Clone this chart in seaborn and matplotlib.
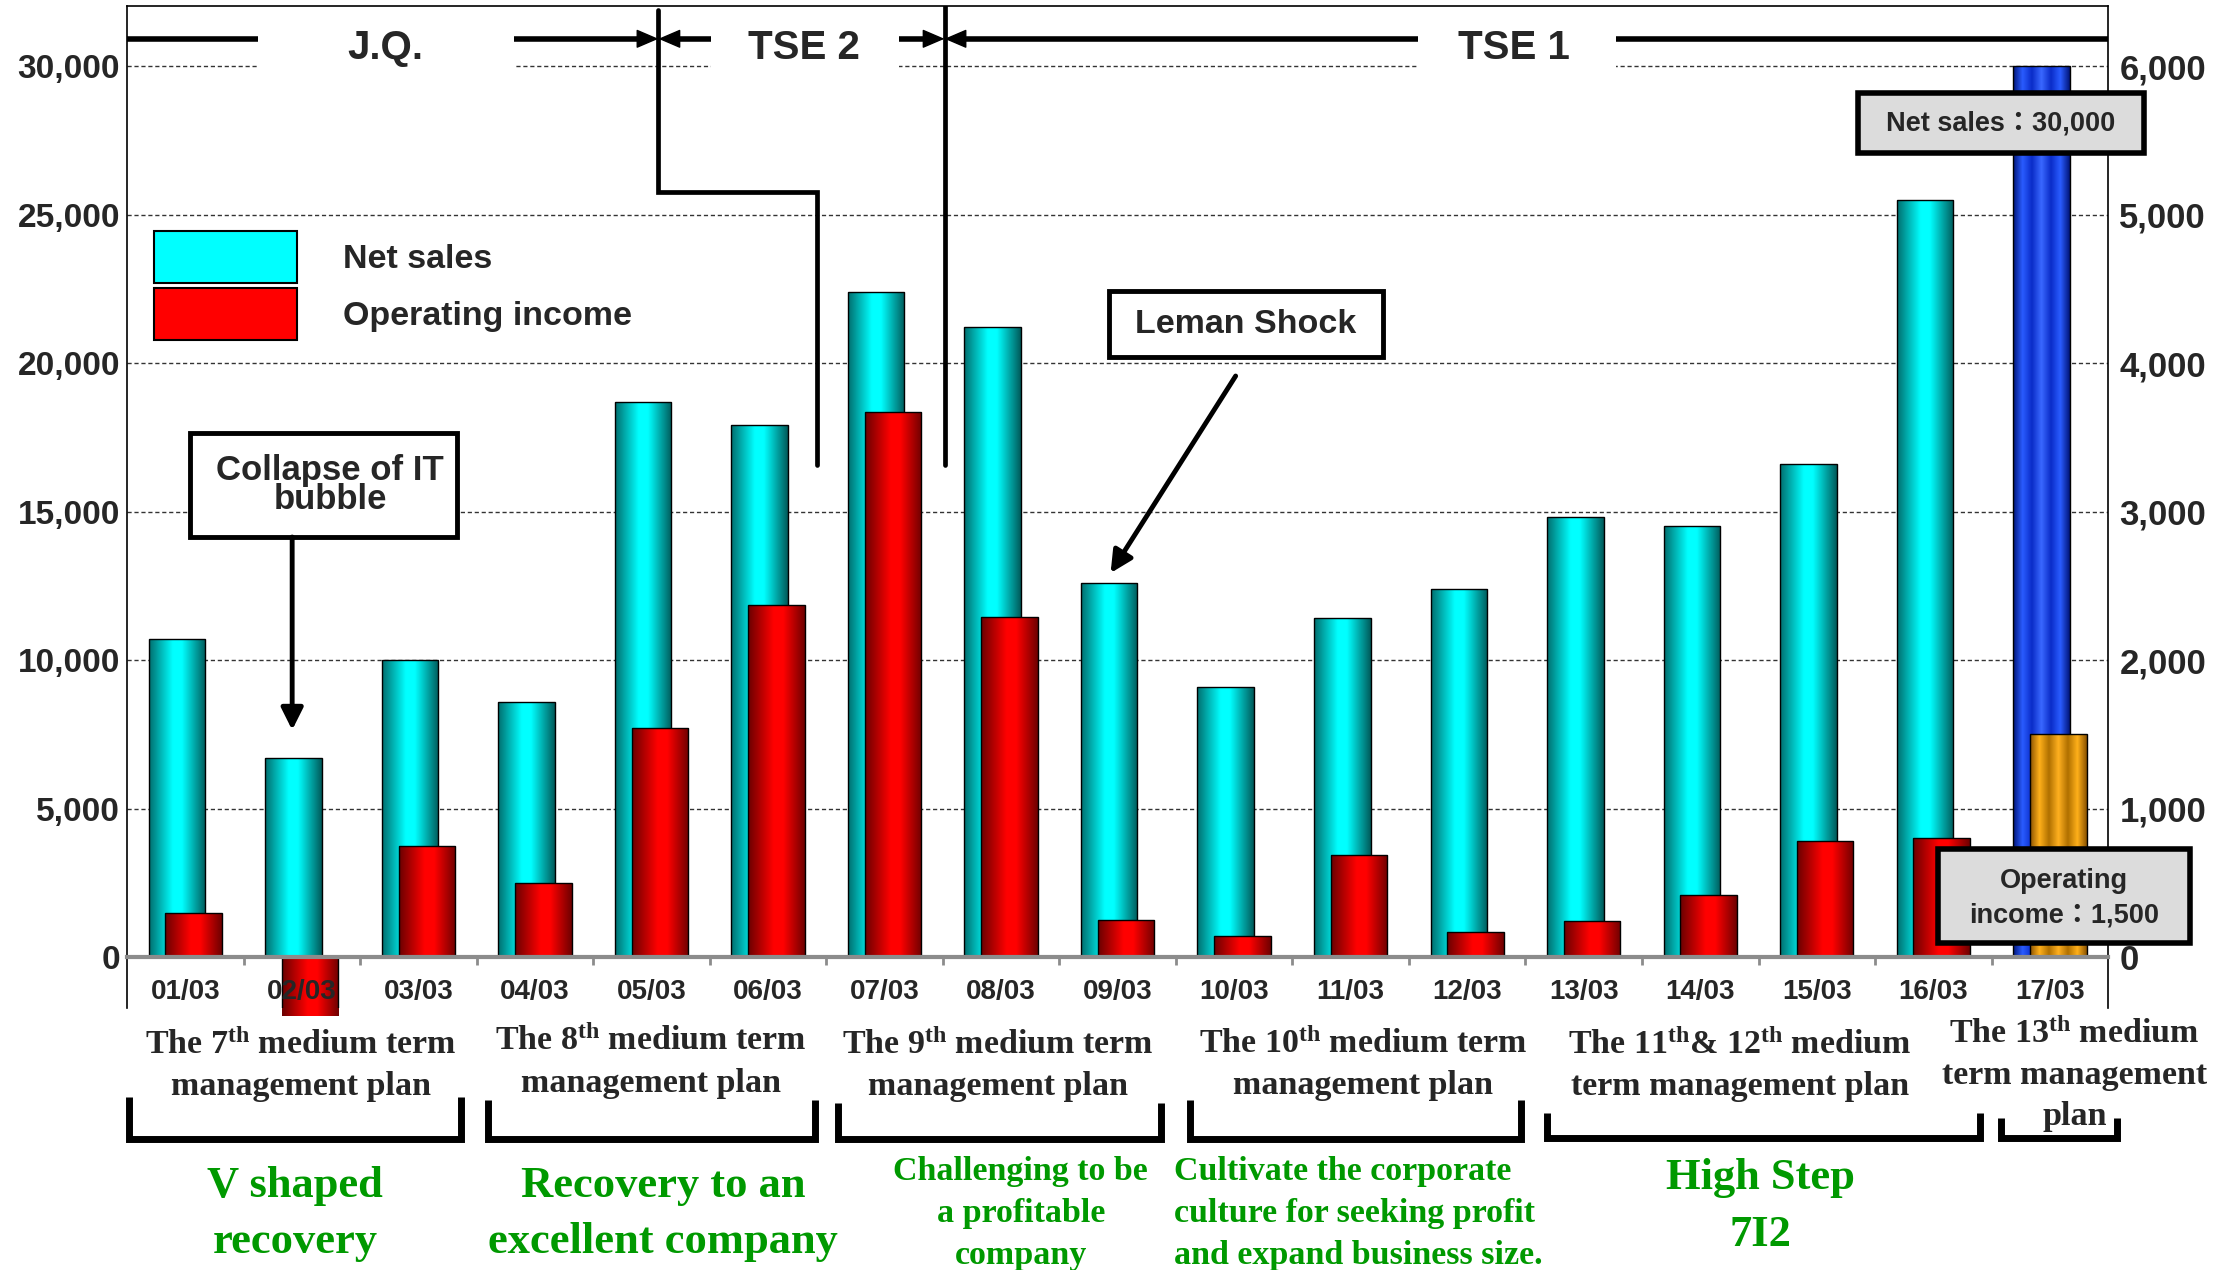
import numpy as np
import pandas as pd
import seaborn as sns
import matplotlib.pyplot as plt
from matplotlib.colors import LinearSegmentedColormap
from matplotlib.patches import Patch, Rectangle

# values
years = ['01/03', '02/03', '03/03', '04/03', '05/03', '06/03', '07/03', '08/03', '09/03',
         '10/03', '11/03', '12/03', '13/03', '14/03', '15/03', '16/03', '17/03']
net_sales = [10700, 6700, 10000, 8600, 18700, 17900, 22400, 21200, 12600,
             9100, 11400, 12400, 14800, 14500, 16600, 25500, 30000]
op_income = [300, -400, 750, 500, 1540, 2370, 3670, 2290, 250,
             145, 690, 170, 240, 420, 780, 800, 1500]
sales_ticks = [0, 5000, 10000, 15000, 20000, 25000, 30000]
income_ticks = [0, 1000, 2000, 3000, 4000, 5000, 6000]
legend_labels = ['Net sales', 'Operating income']
plan_labels = [
    r'The $\mathbf{7^{th}}$ medium term' + '\nmanagement plan',
    r'The $\mathbf{8^{th}}$ medium term' + '\nmanagement plan',
    r'The $\mathbf{9^{th}}$ medium term' + '\nmanagement plan',
    r'The $\mathbf{10^{th}}$ medium term' + '\nmanagement plan',
    r'The $\mathbf{11^{th}}$& $\mathbf{12^{th}}$ medium' + '\nterm management plan',
    r'The $\mathbf{13^{th}}$ medium' + '\nterm management\nplan',
]
plan_themes = ['V shaped\nrecovery', 'Recovery to an\nexcellent company',
               'Challenging to be\na profitable\ncompany',
               'Cultivate the corporate\nculture for seeking profit\nand expand business size.',
               'High Step\n7I2']

sns.set_style('white')
plt.rcParams['font.family'] = ['Liberation Sans', 'Noto Sans CJK JP']
plt.rcParams['font.weight'] = 'bold'
plt.rcParams['mathtext.fontset'] = 'custom'
plt.rcParams['mathtext.rm'] = 'Liberation Serif:bold'
plt.rcParams['mathtext.bf'] = 'Liberation Serif:bold'
plt.rcParams['mathtext.it'] = 'Liberation Serif:italic:bold'

cyan_map = LinearSegmentedColormap.from_list('cy', [(0, '#006e6e'), (0.42, '#00ffff'), (0.58, '#00ffff'), (1, '#005a5a')])
red_map = LinearSegmentedColormap.from_list('rd', [(0, '#6a0000'), (0.45, '#ff0000'), (0.62, '#ff0000'), (1, '#6e0000')])
blue_map = LinearSegmentedColormap.from_list('bl', ['#001478', '#2a5cff', '#0a2cc8', '#3a68ff', '#0a2cc8', '#2a5cff', '#001478'])
orange_map = LinearSegmentedColormap.from_list('or', ['#8a5200', '#ffb01a', '#b07000', '#ffb020', '#b07000', '#ffb01a', '#8a5200'])


def shade(axis, cmaps):
    # fake the cylinder look with a horizontal gradient clipped to each bar
    ramp = np.linspace(0, 1, 256).reshape(1, -1)
    for bar, cmap in zip(axis.patches, cmaps):
        x0, y0 = bar.get_x(), bar.get_y()
        img = axis.imshow(ramp, cmap=cmap, aspect='auto', interpolation='bilinear',
                          extent=[x0, x0 + bar.get_width(), y0, y0 + bar.get_height()],
                          zorder=bar.get_zorder() - 0.01)
        img.set_clip_path(bar)
        bar.set_facecolor('none')


fig = plt.figure(figsize=(22.17, 12.70), dpi=100)
ax = fig.add_axes([0.0573, 0.2063, 0.8936, 0.7892])

sns.barplot(x=years, y=net_sales, ax=ax, color='cyan', width=0.485, saturation=1,
            edgecolor='black', linewidth=1, errorbar=None)
for bar in ax.patches:
    bar.set_x(bar.get_x() - 0.072)
shade(ax, [cyan_map] * 16 + [blue_map])

ax2 = ax.twinx()
sns.barplot(x=years, y=op_income, ax=ax2, color='red', width=0.485, saturation=1,
            edgecolor='black', linewidth=1, errorbar=None)
for bar in ax2.patches:
    bar.set_x(bar.get_x() + 0.072)
shade(ax2, [red_map] * 16 + [orange_map])

# axes, ticks, grid
ax.set_xlim(-0.5, 16.5)
ax.set_ylim(-1717, 32030)
ax2.set_ylim(-343, 6406)
ax.set_ylabel('')
ax2.set_ylabel('')
ax.set_yticks(sales_ticks)
ax.set_yticklabels([f'{t:,}' for t in sales_ticks])
ax2.set_yticks(income_ticks)
ax2.set_yticklabels([f'{t:,}' for t in income_ticks])
ax.tick_params(axis='y', length=0, pad=5, labelsize=24)
ax.tick_params(axis='x', which='both', bottom=False, labelbottom=False)
ax2.tick_params(axis='y', length=0, pad=8, labelsize=25)

ax2.xaxis.set_visible(True)
ax2.set_xticks(range(len(years)))
ax2.set_xticklabels(years)
ax2.set_xticks(np.arange(0.5, len(years) - 1, 1), minor=True)
ax2.tick_params(axis='x', which='major', length=0, pad=16, labelsize=20, bottom=True, labelbottom=True)
ax2.tick_params(axis='x', which='minor', length=6, width=2, color='#8c8c8c', direction='out', bottom=True)
ax2.set_xlim(-0.5, 16.5)

ax.spines['right'].set_visible(False)
ax.spines['bottom'].set_visible(False)
for s in ['left', 'top']:
    ax.spines[s].set_color('black')
    ax.spines[s].set_linewidth(1.2)
ax2.spines['left'].set_visible(False)
ax2.spines['top'].set_visible(False)
ax2.spines['right'].set_color('black')
ax2.spines['right'].set_linewidth(1.2)
ax2.spines['bottom'].set_position(('data', 0))
ax2.spines['bottom'].set_color('#8c8c8c')
ax2.spines['bottom'].set_linewidth(3)

ax.set_axisbelow(True)
ax2.set_axisbelow(False)
ax.yaxis.grid(True, linestyle=(0, (3, 2)), color='#333333', linewidth=1)
ax.xaxis.grid(False)
ax2.grid(False)

handles = [Patch(facecolor='cyan', edgecolor='black', linewidth=1.5),
           Patch(facecolor='red', edgecolor='black', linewidth=1.5)]
ax.legend(handles, legend_labels, loc='upper left', bbox_to_anchor=(0.0136, 0.775), frameon=False,
          prop=dict(family='Liberation Sans', weight='bold', size=24.5),
          handlelength=4.2, handleheight=1.96, handletextpad=1.35, labelspacing=0.15,
          borderpad=0, borderaxespad=0)

T = ax.transData


def box(x0, y0, x1, y1, fc, lw=3.5):
    ax2.add_patch(Rectangle((x0, y0), x1 - x0, y1 - y0, transform=T, facecolor=fc,
                            edgecolor='black', linewidth=lw, zorder=5, clip_on=False))


def arrow(x0, y0, x1, y1, lw=3.5, style='-|>,head_length=0.6,head_width=0.3', ms=22):
    ax2.annotate('', xy=(x1, y1), xytext=(x0, y0), xycoords=T, textcoords=T, zorder=6,
                 arrowprops=dict(arrowstyle=style, mutation_scale=ms, lw=lw, color='black',
                                 shrinkA=0, shrinkB=0))


# market banner across the top
for x0, x1 in [(0.625, 2.82), (4.51, 6.12), (10.575, 12.28)]:
    ax.add_patch(Rectangle((x0, 29450), x1 - x0, 1100, facecolor='white', edgecolor='none', zorder=0.9))
for x0, x1 in [(-0.5, 0.625), (2.82, 3.94), (4.18, 4.51), (6.12, 6.395), (6.635, 10.575), (12.28, 16.5)]:
    ax2.plot([x0, x1], [30916, 30916], transform=T, color='black', lw=4, solid_capstyle='butt', zorder=4)
head = '-|>,head_length=0.7,head_width=0.3'
for x0, x1 in [(3.9, 4.06), (4.22, 4.06), (6.355, 6.515), (6.675, 6.515)]:
    arrow(x0, 30916, x1, 30916, lw=1, style=head, ms=20)
for label, x in [('J.Q.', 1.72), ('TSE 2', 5.31), ('TSE 1', 11.40)]:
    ax2.text(x, 30620, label, transform=T, ha='center', va='center', fontsize=29, zorder=6)
ax2.plot([4.06, 4.06, 5.424, 5.424], [31886, 25768, 25768, 16566], transform=T,
         color='black', lw=3.4, solid_joinstyle='miter', zorder=4)
ax2.plot([6.515, 6.515], [32030, 16566], transform=T, color='black', lw=3.4, zorder=4)

# call-outs
box(0.041, 14141, 2.333, 17643, 'white')
ax2.text(1.243, 15892, 'Collapse of IT\nbubble', transform=T, ha='center', va='center',
         fontsize=25, linespacing=0.82, zorder=6)
arrow(0.917, 14141, 0.917, 7643)

box(7.923, 20202, 10.275, 22424, 'white')
ax2.text(9.10, 21313, 'Leman Shock', transform=T, ha='center', va='center', fontsize=24.5, zorder=6)
arrow(9.013, 19562, 7.94, 12929)

box(14.353, 27071, 16.81, 29091, '#dcdcdc', lw=4)
ax2.text(15.58, 28081, 'Net sales：30,000', transform=T, ha='center', va='center', fontsize=19.5, zorder=6)
box(15.04, 471, 17.204, 3636, '#dcdcdc', lw=4)
ax2.text(16.12, 1986, 'Operating\nincome：1,500', transform=T, ha='center', va='center',
         fontsize=19.5, linespacing=1.45, zorder=6, clip_on=False)

# medium term plans under the axis
plan_pos = [(0.99, -3660), (3.996, -3540), (6.97, -3660), (10.11, -3620), (13.34, -3660), (16.21, -3973)]
for label, (x, y) in zip(plan_labels, plan_pos):
    ax2.text(x, y, label, transform=T, ha='center', va='center', family='Liberation Serif',
             fontsize=24.5, linespacing=1.43, clip_on=False)

brackets = [(-0.483, 2.368, -4714, -6130), (2.599, 5.407, -4815, -6130), (5.605, 8.369, -4916, -6130),
            (8.618, 11.46, -4815, -6130), (11.683, 15.40, -5252, -6100), (15.58, 16.58, -5421, -6100)]
for x0, x1, yt, yb in brackets:
    ax2.plot([x0, x0, x1, x1], [yt, yb, yb, yt], transform=T, color='black', lw=5,
             solid_joinstyle='miter', solid_capstyle='butt', clip_on=False)

theme_pos = [(0.94, -8650, 'center', 32, 1.53), (4.10, -8650, 'center', 32, 1.53),
             (7.17, -8650, 'center', 24.5, 1.46), (8.48, -8650, 'left', 24.5, 1.46),
             (13.52, -8400, 'center', 32, 1.53)]
for label, (x, y, ha, fs, ls) in zip(plan_themes, theme_pos):
    ax2.text(x, y, label, transform=T, ha=ha, va='center', family='Liberation Serif',
             fontsize=fs, color='#009900', linespacing=ls, clip_on=False)

fig.savefig('out.png', dpi=100)
